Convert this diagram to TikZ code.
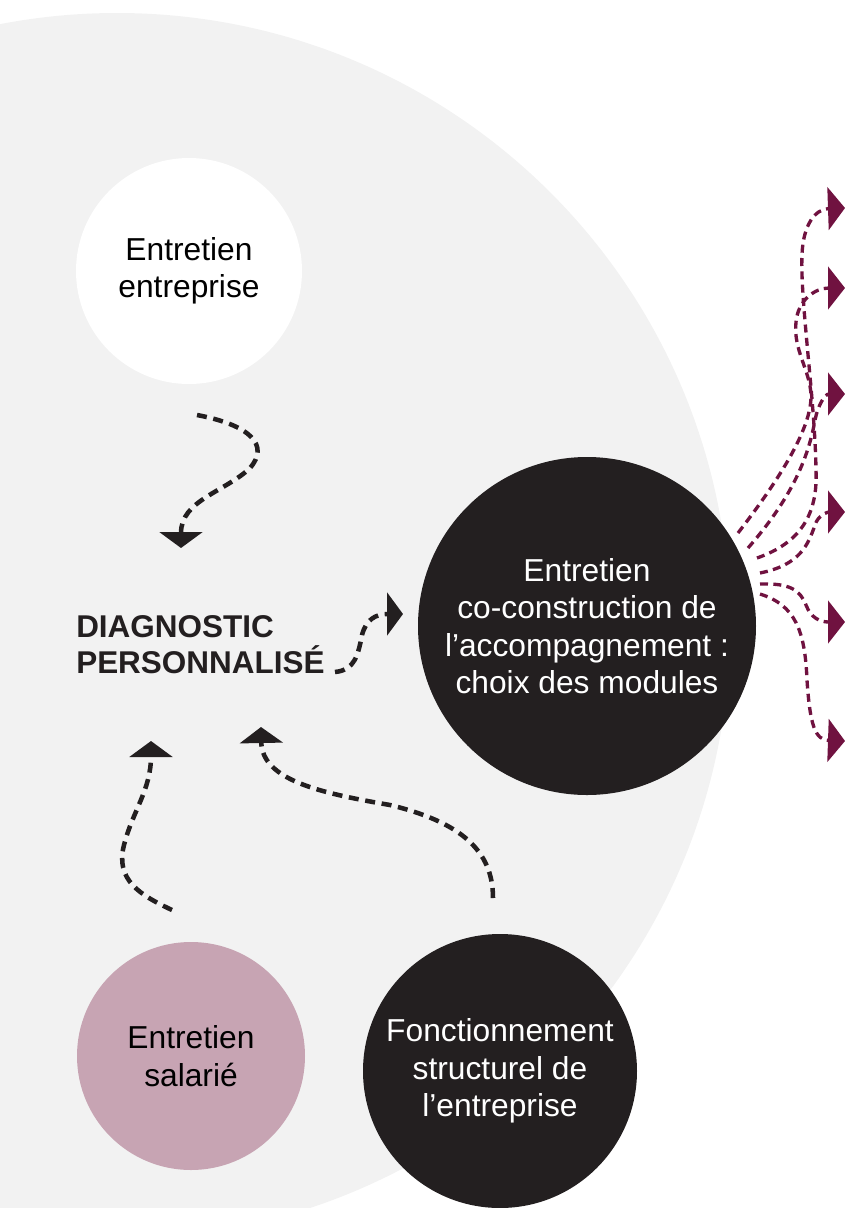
\documentclass[tikz,border=0pt]{standalone}
\usepackage{fontspec}
\setmainfont{Liberation Sans}
\usetikzlibrary{arrows.meta,positioning,calc}
\definecolor{fond}{RGB}{242,242,242}
\definecolor{noir}{RGB}{35,31,32}
\definecolor{rose}{RGB}{199,164,179}
\definecolor{bordeaux}{RGB}{112,18,64}
\newcommand{\txt}{\fontsize{23.8}{28}\selectfont}
\newcommand{\tdiag}{\fontsize{23.6}{27}\selectfont\bfseries}

\begin{document}
\begin{tikzpicture}[x=0.75pt,y=-0.75pt,
  bulle/.style={circle,inner sep=0pt,align=center,font=\txt},
  fleche/.style={draw=noir,line width=3.4pt,dash pattern=on 7.5pt off 5pt,-{Triangle[length=12pt,width=32pt]}},
  module/.style={draw=bordeaux,line width=2.5pt,dash pattern=on 6pt off 4pt,-{Triangle[length=12.75pt,width=32pt]}}]
\useasboundingbox (0,0) rectangle (854,1208);
\begin{scope}
\clip (0,0) rectangle (854,1208);
\fill[fond] (117,626) circle[radius=613];
\end{scope}
%
\node[bulle,fill=white,minimum size=169.5pt]          (entreprise) at (189,271)  {Entretien\\entreprise};
\node[bulle,fill=noir,text=white,minimum size=253.5pt] (coco)       at (587,626)  {Entretien\\co-construction de\\l’accompagnement :\\choix des modules};
\node[bulle,fill=rose,minimum size=171pt]             (salarie)    at (191,1056) {Entretien\\salarié};
\node[bulle,fill=noir,text=white,minimum size=205.5pt] (fonct)      at (500,1071) {Fonctionnement\\structurel de\\l’entreprise};
\node[anchor=base west,inner sep=0pt,align=left,font=\tdiag,text=noir] (diag) at (76,673) {DIAGNOSTIC\\PERSONNALISÉ};
%
\coordinate (e1) at (197,415);  \coordinate (d1) at (181,548);
\coordinate (e2) at (335,672);  \coordinate (d2) at (403,614);
\coordinate (e3) at (172,910);  \coordinate (d3) at (151,741);
\coordinate (e4) at (493,898);  \coordinate (d4) at (261,727);
\draw[fleche] (e1) .. controls (250,425) and (270,445) .. (250,468) .. controls (225,492) and (181,500) .. (d1);
\draw[fleche] (e2) .. controls (355,670) and (358,655) .. (362,635) .. controls (366,620) and (375,614) .. (d2);
\draw[fleche] (e3) .. controls (140,895) and (115,880) .. (124,845) .. controls (133,810) and (151,790) .. (d3);
\draw[fleche] (e4) .. controls (493,850) and (460,822) .. (390,805) .. controls (320,793) and (262,780) .. (d4);
%
\foreach \n/\y in {1/208,2/288,3/394,4/512,5/622,6/741}
  \coordinate (m\n) at (845,\y);
\draw[module] (757,558) .. controls (800,543) and (818,515) .. (816,470) .. controls (815,400) and (800,300) .. (802,255) .. controls (803,225) and (815,209) .. (m1);
\draw[module] (738,533) .. controls (775,485) and (812,430) .. (811,395) .. controls (810,370) and (793,350) .. (796,322) .. controls (798,300) and (815,288) .. (m2);
\draw[module] (748,548) .. controls (790,500) and (808,460) .. (815,420) .. controls (818,405) and (825,394) .. (m3);
\draw[module] (760,573) .. controls (800,565) and (808,545) .. (815,525) .. controls (818,515) and (828,512) .. (m4);
\draw[module] (760,584) .. controls (790,583) and (800,590) .. (806,605) .. controls (811,618) and (820,622) .. (m5);
\draw[module] (760,594) .. controls (795,605) and (805,630) .. (807,680) .. controls (810,725) and (815,740) .. (m6);
\end{tikzpicture}
\end{document}
